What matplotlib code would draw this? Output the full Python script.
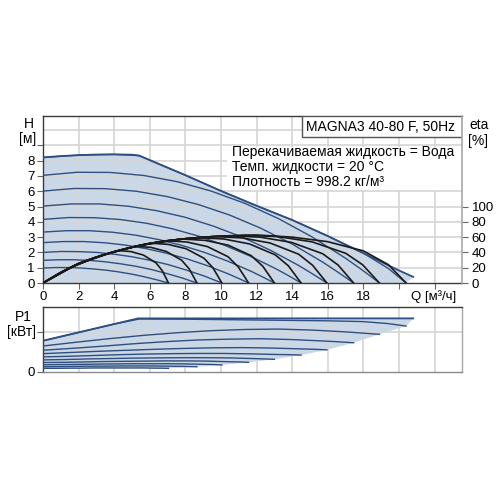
import numpy as np
import matplotlib.pyplot as plt
from matplotlib.patches import Rectangle

plt.rcParams['font.family'] = ['Liberation Sans', 'DejaVu Sans']

# --- data, highest speed first ---
q_curves = [
    [0, 2, 4, 5.4, 8, 10, 12, 14, 16, 18, 19.4, 20.4],
    [0, 1.89, 3.78, 5.67, 7.56, 9.45, 11.34, 13.23, 15.12, 17.01, 17.96, 18.9],
    [0, 1.75, 3.49, 5.24, 6.98, 8.73, 10.47, 12.22, 13.96, 15.71, 16.58, 17.45],
    [0, 1.6, 3.19, 4.79, 6.38, 7.98, 9.57, 11.17, 12.76, 14.36, 15.15, 15.95],
    [0, 1.45, 2.9, 4.35, 5.8, 7.25, 8.7, 10.15, 11.6, 13.05, 13.78, 14.5],
    [0, 1.3, 2.6, 3.9, 5.2, 6.5, 7.8, 9.1, 10.4, 11.7, 12.35, 13.0],
    [0, 1.16, 2.31, 3.47, 4.62, 5.78, 6.93, 8.09, 9.24, 10.4, 10.97, 11.55],
    [0, 1.0, 2.01, 3.02, 4.02, 5.03, 6.03, 7.04, 8.04, 9.05, 9.55, 10.05],
    [0, 0.87, 1.73, 2.6, 3.46, 4.33, 5.19, 6.06, 6.92, 7.79, 8.22, 8.65],
    [0, 0.71, 1.41, 2.12, 2.82, 3.53, 4.23, 4.94, 5.64, 6.35, 6.7, 7.05],
]
h_curves = [
    [8.21, 8.36, 8.41, 8.33, 7.05, 6.02, 5.05, 4.12, 3.07, 1.95, 0.95, 0],
    [7.04, 7.24, 7.23, 7.03, 6.62, 6.01, 5.21, 4.21, 3.01, 1.61, 0.83, 0],
    [6.01, 6.18, 6.17, 6.0, 5.65, 5.13, 4.45, 3.59, 2.57, 1.37, 0.70, 0],
    [5.03, 5.17, 5.17, 5.02, 4.73, 4.3, 3.72, 3.01, 2.15, 1.15, 0.59, 0],
    [4.16, 4.28, 4.27, 4.15, 3.91, 3.55, 3.08, 2.49, 1.78, 0.95, 0.49, 0],
    [3.33, 3.42, 3.42, 3.32, 3.13, 2.84, 2.46, 1.99, 1.42, 0.76, 0.39, 0],
    [2.64, 2.71, 2.71, 2.63, 2.48, 2.25, 1.95, 1.58, 1.13, 0.6, 0.31, 0],
    [2.0, 2.06, 2.05, 2.0, 1.88, 1.71, 1.48, 1.2, 0.85, 0.46, 0.23, 0],
    [1.48, 1.52, 1.52, 1.48, 1.39, 1.26, 1.1, 0.89, 0.63, 0.34, 0.17, 0],
    [0.98, 1.01, 1.01, 0.98, 0.92, 0.84, 0.73, 0.59, 0.42, 0.22, 0.11, 0],
]
eta_curves = [
    [0, 25.6, 41.0, 49.0, 58.0, 61.4, 62.8, 60.0, 54.0, 42.0, 24.0, 0],
    [0, 24.3, 39.5, 50.4, 56.9, 60.6, 62.5, 60.6, 53.8, 38.8, 23.8, 0],
    [0, 22.7, 37.4, 48.2, 55.4, 59.5, 61.8, 59.9, 53.1, 38.3, 23.5, 0],
    [0, 21.0, 35.3, 45.7, 53.3, 58.0, 60.8, 59.0, 52.3, 37.7, 23.1, 0],
    [0, 19.2, 33.2, 43.1, 51.0, 56.1, 59.4, 57.6, 51.1, 36.8, 22.6, 0],
    [0, 17.5, 30.6, 40.3, 48.0, 53.8, 57.5, 55.8, 49.5, 35.7, 21.9, 0],
    [0, 15.9, 28.2, 37.3, 44.7, 50.9, 55.3, 53.6, 47.6, 34.3, 21.0, 0],
    [0, 14.0, 25.7, 34.1, 41.1, 47.2, 52.1, 50.5, 44.8, 32.3, 19.8, 0],
    [0, 12.2, 22.5, 30.6, 37.2, 43.0, 48.0, 46.6, 41.3, 29.8, 18.2, 0],
    [0, 9.9, 18.8, 26.6, 32.5, 37.7, 42.4, 41.1, 36.5, 26.3, 16.1, 0],
]
p_curves = [
    [0.155, 0.196, 0.238, 0.263, 0.262, 0.26, 0.258, 0.256, 0.254, 0.25, 0.24, 0.228],
    [0.129, 0.148, 0.166, 0.182, 0.195, 0.205, 0.211, 0.213, 0.208, 0.199, 0.193, 0.187],
    [0.108, 0.118, 0.129, 0.141, 0.151, 0.159, 0.163, 0.165, 0.161, 0.154, 0.15, 0.145],
    [0.091, 0.097, 0.103, 0.108, 0.113, 0.117, 0.12, 0.121, 0.119, 0.115, 0.113, 0.11],
    [0.075, 0.078, 0.082, 0.086, 0.089, 0.091, 0.092, 0.092, 0.09, 0.087, 0.086, 0.084],
    [0.06, 0.062, 0.065, 0.067, 0.069, 0.07, 0.071, 0.071, 0.07, 0.067, 0.065, 0.063],
    [0.047, 0.048, 0.05, 0.052, 0.053, 0.054, 0.055, 0.055, 0.054, 0.051, 0.05, 0.048],
    [0.036, 0.037, 0.038, 0.039, 0.04, 0.041, 0.041, 0.041, 0.04, 0.038, 0.037, 0.035],
    [0.026, 0.027, 0.028, 0.029, 0.029, 0.03, 0.03, 0.03, 0.029, 0.028, 0.027, 0.026],
    [0.018, 0.018, 0.019, 0.019, 0.02, 0.02, 0.02, 0.02, 0.02, 0.019, 0.019, 0.018],
]

# max curve (power limit)
q_max = [0, 1, 2, 3, 4, 5, 5.4, 8, 10, 12, 14, 16, 18, 20, 20.8]
h_max = [8.21, 8.3, 8.36, 8.4, 8.41, 8.39, 8.33, 7.05, 6.02, 5.05, 4.12, 3.07, 1.95, 0.82, 0.4]
q_pmax = [0, 5.35, 20.8]
p_pmax = [0.155, 0.266, 0.266]

x_ticks = [0, 2, 4, 6, 8, 10, 12, 14, 16, 18, 20, 22]
x_labels = ['0', '2', '4', '6', '8', '10', '12', '14', '16', '18', '', '']
h_ticks = [0, 1, 2, 3, 4, 5, 6, 7, 8, 9]
h_labels = ['0', '1', '2', '3', '4', '5', '6', '7', '8', '']
eta_ticks = [0, 20, 40, 60, 80, 100]

pump_name = 'MAGNA3 40-80 F, 50Hz'
info_lines = ['Перекачиваемая жидкость = Вода',
              'Темп. жидкости = 20 °C',
              'Плотность = 998.2 кг/м³']

# --- style ---
fill_col = '#c9d7e7'
line_col = '#2f4f7e'
grid_col = '#d6d6d6'
dark = '#3a3a3a'
light = '#a8a8a8'
XMAX = 23.54
HMAX = 10.92

fig = plt.figure(figsize=(5, 5), dpi=100)

# ---------------- H / eta plot ----------------
ax = fig.add_axes([0.086, 0.434, 0.838, 0.334])
ax.set_xlim(0, XMAX)
ax.set_ylim(0, HMAX)

for y in range(1, 11):
    ax.axhline(y, color=grid_col, lw=1.2, zorder=1.5)
for x in x_ticks[1:]:
    ax.axvline(x, color=grid_col, lw=1.2, zorder=1.5)

ax.fill(list(q_max) + [20.4, 0], list(h_max) + [0, 0], color=fill_col, lw=0, zorder=1)
ax.plot(q_max, h_max, color='#2c4f86', lw=1.3, zorder=3)
for q, h in zip(q_curves, h_curves):
    ax.plot(q, h, color=line_col, lw=1.0, zorder=3)

# white block behind the info text
ax.add_patch(Rectangle((0.44, 0.555), 0.56, 0.26, transform=ax.transAxes,
                       facecolor='white', edgecolor='none', zorder=2))
for i, s in enumerate(info_lines):
    ax.text(0.451, 0.783 - i * 0.088, s, transform=ax.transAxes, fontsize=10,
            ha='left', va='center', zorder=5)

ax.add_patch(Rectangle((0.618, 0.872), 0.382, 0.128, transform=ax.transAxes,
                       facecolor='white', edgecolor='#555555', lw=1.0, zorder=4))
ax.text(0.628, 0.936, pump_name, transform=ax.transAxes, fontsize=10,
        ha='left', va='center', zorder=5)

ax.set_xticks(x_ticks)
ax.set_xticklabels(x_labels)
ax.set_yticks(h_ticks)
ax.set_yticklabels(h_labels)
ax.tick_params(axis='both', direction='out', length=4, width=0.8, color='#666666',
               labelsize=9.5, pad=2)
for side in ['left', 'bottom', 'top']:
    ax.spines[side].set_color(dark)
    ax.spines[side].set_linewidth(1.0)
ax.spines['right'].set_visible(False)

ax_eta = ax.twinx()
ax_eta.set_ylim(0, HMAX * 20)
for q, e in zip(q_curves, eta_curves):
    ax_eta.plot(q, e, color='#1a1a1a', lw=1.2, zorder=4)
ax_eta.set_yticks(eta_ticks)
ax_eta.tick_params(axis='y', direction='out', length=4, width=0.8, color='#666666',
                   labelsize=9.5, pad=3)
for side in ['left', 'bottom', 'top']:
    ax_eta.spines[side].set_visible(False)
ax_eta.spines['right'].set_color(light)
ax_eta.spines['right'].set_linewidth(1.2)

fig.text(29 / 500, 1 - 124 / 500, 'H', fontsize=10, ha='center', va='center')
fig.text(27.5 / 500, 1 - 139 / 500, '[м]', fontsize=10, ha='center', va='center')
fig.text(479 / 500, 1 - 125 / 500, 'eta', fontsize=10, ha='center', va='center')
fig.text(478 / 500, 1 - 141 / 500, '[%]', fontsize=10, ha='center', va='center')
fig.text(434 / 500, 1 - 297 / 500, 'Q [м³/ч]', fontsize=9.5, ha='center', va='center')

# ---------------- P1 plot ----------------
axp = fig.add_axes([0.086, 0.256, 0.838, 0.13])
axp.set_xlim(0, XMAX)
axp.set_ylim(0, 0.3225)
axp.axhline(0.2, color=grid_col, lw=1.2, zorder=1.5)
for x in x_ticks[1:]:
    axp.axvline(x, color=grid_col, lw=1.2, zorder=1.5)

ends_q = [q[-1] for q in q_curves]
ends_p = [p[-1] for p in p_curves]
poly_q = list(q_pmax) + ends_q + list(q_curves[-1][::-1])
poly_p = list(p_pmax) + ends_p + list(p_curves[-1][::-1])
axp.fill(poly_q, poly_p, color=fill_col, lw=0, zorder=1)
axp.plot(q_pmax, p_pmax, color='#2c4f86', lw=1.3, zorder=3)
for q, p in zip(q_curves, p_curves):
    axp.plot(q, p, color=line_col, lw=1.0, zorder=3)

axp.set_xticks(x_ticks)
axp.set_xticklabels([])
axp.tick_params(axis='x', length=0)
axp.set_yticks([0, 0.2])
axp.set_yticklabels(['0', ''])
axp.tick_params(axis='y', direction='out', length=4, width=0.8, color='#666666',
                labelsize=9.5, pad=2)
axp.spines['left'].set_color(dark)
axp.spines['top'].set_color(dark)
axp.spines['bottom'].set_color('#8a8a8a')
axp.spines['right'].set_color(light)
for s in axp.spines.values():
    s.set_linewidth(1.0)

fig.text(23.5 / 500, 1 - 317 / 500, 'P1', fontsize=10, ha='center', va='center')
fig.text(21.5 / 500, 1 - 332 / 500, '[кВт]', fontsize=10, ha='center', va='center')

fig.savefig('out.png', dpi=100)
